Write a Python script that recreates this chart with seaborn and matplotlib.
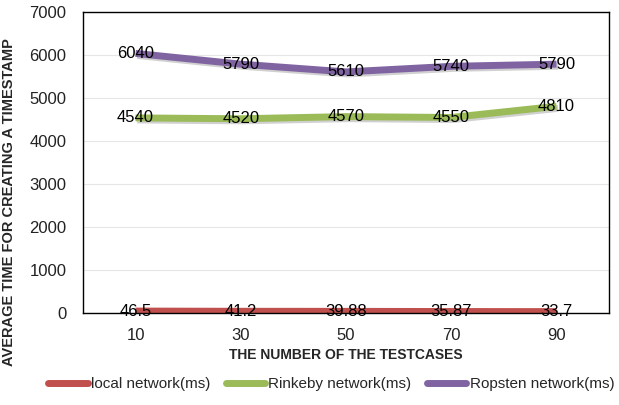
import matplotlib
matplotlib.use("Agg")
import matplotlib.pyplot as plt
import matplotlib.patheffects as pe
import seaborn as sns
import pandas as pd

testcases = ["10", "30", "50", "70", "90"]
local_ms = [46.5, 41.2, 39.88, 35.87, 33.7]
rinkeby_ms = [4540, 4520, 4570, 4550, 4810]
ropsten_ms = [6040, 5790, 5610, 5740, 5790]
series_names = ["local network(ms)", "Rinkeby network(ms)", "Ropsten network(ms)"]
palette = ["#C0504D", "#9BBB59", "#8064A2"]

rows = []
for name, vals in zip(series_names, [local_ms, rinkeby_ms, ropsten_ms]):
    for tc, v in zip(testcases, vals):
        rows.append({"testcases": tc, "value": v, "series": name})
df = pd.DataFrame(rows)

sns.set_theme(style="white")
plt.rcParams["font.family"] = ["Liberation Sans", "DejaVu Sans"]

fig = plt.figure(figsize=(6.19, 4.05), dpi=100)
ax = fig.add_axes([0.134, 0.227, 0.850, 0.743])

shadow = [pe.SimpleLineShadow(offset=(1.2, -1.5), alpha=0.3, shadow_color="#666666"), pe.Normal()]
sns.lineplot(data=df, x="testcases", y="value", hue="series", hue_order=series_names,
             palette=palette, linewidth=5, ax=ax, legend=False, sort=False,
             path_effects=shadow, solid_capstyle="butt")

for vals in [local_ms, rinkeby_ms, ropsten_ms]:
    for i, v in enumerate(vals):
        ax.text(i, v, f"{v:g}", ha="center", va="center", fontsize=12, color="black", zorder=5)

ax.set_xlim(-0.5, len(testcases) - 0.5)
ax.set_ylim(0, 7000)
ax.set_yticks(range(0, 7001, 1000))
ax.yaxis.grid(True, color="#E6E6E6", linewidth=0.8)
ax.set_axisbelow(True)
for s in ax.spines.values():
    s.set_color("black")
    s.set_linewidth(1.0)
ax.tick_params(axis="y", labelsize=12, colors="#222222", length=0, pad=12)
ax.tick_params(axis="x", labelsize=12, colors="#222222", length=0, pad=11)
ax.set_xlabel("THE NUMBER OF THE TESTCASES", fontsize=10, fontweight="bold", labelpad=3)
ax.set_ylabel("AVERAGE TIME FOR CREATING A TIMESTAMP", fontsize=10.5, fontweight="bold")
ax.yaxis.set_label_coords(-0.128, 0.37)

handles = [plt.Line2D([0], [0], color=c, linewidth=5) for c in palette]
fig.legend(handles, series_names, loc="lower center", bbox_to_anchor=(0.535, 0.0), ncol=3,
           frameon=False, fontsize=11, handlelength=2.6, handletextpad=0.2, columnspacing=1.0)

fig.savefig("out.png", dpi=100)
